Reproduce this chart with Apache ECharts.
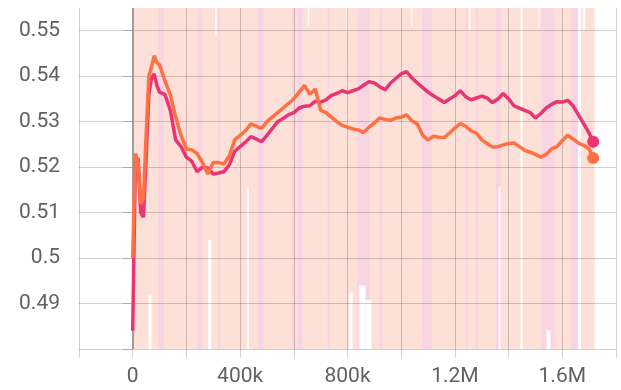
<!DOCTYPE html>
<html>
<head>
<meta charset="utf-8">
<script src="https://cdn.jsdelivr.net/npm/echarts@6/dist/echarts.min.js"></script>
<style>
  html, body { margin: 0; padding: 0; background: #fff; }
  #chart { width: 621px; height: 390px; }
</style>
</head>
<body>
<div id="chart"></div>
<script>
// training steps, in thousands
const stepsK = [
  0, 5, 10, 20, 30, 40, 50, 60, 70, 80, 90, 100,
  120, 140, 160, 180, 200, 220, 240, 260, 280, 300,
  320, 340, 360, 380, 400, 420, 440, 460, 480, 500,
  520, 540, 560, 580, 600, 620, 640, 660, 680, 700,
  720, 740, 760, 780, 800, 820, 840, 860, 880, 900,
  920, 940, 960, 980, 1000, 1020, 1040, 1060, 1080, 1100,
  1120, 1140, 1160, 1180, 1200, 1220, 1240, 1260, 1280, 1300,
  1320, 1340, 1360, 1380, 1400, 1420, 1440, 1460, 1480, 1500,
  1520, 1540, 1560, 1580, 1600, 1620, 1640, 1660, 1680, 1700,
  1715
];

// smoothed run values
const pinkRun = [
  0.484, 0.503, 0.521, 0.522, 0.510, 0.509, 0.522, 0.536, 0.5395, 0.5405, 0.538, 0.5365,
  0.536, 0.5325, 0.526, 0.5245, 0.5222, 0.5213, 0.519, 0.520, 0.5198, 0.5185,
  0.5187, 0.519, 0.5205, 0.5235, 0.5245, 0.5255, 0.5267, 0.5262, 0.5256, 0.527,
  0.5285, 0.530, 0.5307, 0.5315, 0.532, 0.533, 0.5334, 0.5335, 0.5345, 0.5343,
  0.5348, 0.5358, 0.5362, 0.5368, 0.5364, 0.5368, 0.5372, 0.538, 0.5388, 0.5385,
  0.5377, 0.537, 0.5385, 0.5395, 0.5405, 0.541, 0.5396, 0.5385, 0.5375, 0.5365,
  0.5357, 0.535, 0.5342, 0.535, 0.5357, 0.5368, 0.5355, 0.5348, 0.5352, 0.5356,
  0.5352, 0.5342, 0.535, 0.5362, 0.535, 0.5335, 0.533, 0.5325, 0.532, 0.5308,
  0.5318, 0.533, 0.5338, 0.5344, 0.5343, 0.5347, 0.5335, 0.5315, 0.5295, 0.5275,
  0.5256
];

const orangeRun = [
  0.500, 0.512, 0.523, 0.521, 0.512, 0.513, 0.527, 0.540, 0.542, 0.5445, 0.543, 0.5425,
  0.539, 0.536, 0.531, 0.527, 0.524, 0.5238, 0.523, 0.521, 0.5185, 0.521,
  0.521, 0.5207, 0.5225, 0.526, 0.527, 0.528, 0.5295, 0.529, 0.5285, 0.530,
  0.531, 0.532, 0.533, 0.534, 0.535, 0.5365, 0.538, 0.536, 0.5372, 0.5325,
  0.532, 0.531, 0.530, 0.5292, 0.5288, 0.5284, 0.5282, 0.5276, 0.5288, 0.5297,
  0.5308, 0.5305, 0.5303, 0.5308, 0.531, 0.5315, 0.5302, 0.5295, 0.527, 0.526,
  0.5268, 0.5266, 0.5265, 0.5275, 0.5286, 0.5296, 0.529, 0.528, 0.5275, 0.526,
  0.5252, 0.5244, 0.5245, 0.5249, 0.5252, 0.5253, 0.5245, 0.5237, 0.5233, 0.5228,
  0.5222, 0.5228, 0.524, 0.5245, 0.5258, 0.527, 0.5262, 0.5253, 0.5248, 0.524,
  0.522
];

// raw (unsmoothed) data is so noisy it fills the plot: kept as step ranges
const orangeRawSpan = [[0, 1720000, 0.48, 0.555]];
const pinkRawBands = [
  [96000, 115000], [241000, 259000], [319000, 326000], [467000, 485000],
  [596000, 604000], [615000, 633000], [726000, 733000], [837000, 882000],
  [919000, 930000], [1078000, 1115000], [1241000, 1248000], [1278000, 1285000],
  [1352000, 1370000], [1522000, 1570000], [1633000, 1659000]
];
const rawGaps = [
  [59000, 70000, 0.48, 0.4918], [281000, 293000, 0.48, 0.504],
  [307000, 313000, 0.549, 0.555], [426000, 433000, 0.48, 0.5156],
  [652000, 657000, 0.551, 0.555], [796000, 801000, 0.550, 0.555],
  [807000, 819000, 0.48, 0.4923], [844000, 867000, 0.48, 0.494],
  [867000, 889000, 0.48, 0.4907], [1037000, 1042000, 0.551, 0.555],
  [1252000, 1258000, 0.550, 0.555], [1363000, 1370000, 0.48, 0.5156],
  [1444000, 1452000, 0.48, 0.555], [1511000, 1515000, 0.551, 0.555],
  [1541000, 1556000, 0.48, 0.4841], [1659000, 1670000, 0.48, 0.555],
  [1678000, 1685000, 0.550, 0.555]
];

const Y_MIN = 0.48, Y_MAX = 0.555;

function toPoints(values) {
  return values.map((v, i) => [stepsK[i] * 1000, v]);
}

function bandSeries(name, bands, color) {
  return {
    name: name,
    type: 'custom',
    z: 1,
    silent: true,
    animation: false,
    data: bands.map(b => [b[0], b[1], b.length > 2 ? b[2] : Y_MIN, b.length > 2 ? b[3] : Y_MAX]),
    renderItem: (params, api) => {
      const p0 = api.coord([api.value(0), api.value(3)]);
      const p1 = api.coord([api.value(1), api.value(2)]);
      return {
        type: 'rect',
        shape: { x: p0[0], y: p0[1], width: p1[0] - p0[0], height: p1[1] - p0[1] },
        style: { fill: color }
      };
    }
  };
}

function runSeries(name, values, color) {
  const pts = toPoints(values);
  const data = pts.map((p, i) => i === pts.length - 1
    ? { value: p, symbol: 'circle', symbolSize: 12, itemStyle: { color: color } }
    : p);
  return {
    name: name,
    type: 'line',
    z: 5,
    data: data,
    symbol: 'none',
    lineStyle: { color: color, width: 3.5 },
    itemStyle: { color: color },
    emphasis: { disabled: true },
    animation: false
  };
}

const labelFont = { color: '#616161', fontSize: 21, fontFamily: 'Roboto' };
const gridGray = 'rgba(0,0,0,0.18)';

const chart = echarts.init(document.getElementById('chart'));

const peach = bandSeries('orange raw', orangeRawSpan, '#fde0d7');
peach.markLine = {
  silent: true,
  symbol: 'none',
  label: { show: false },
  lineStyle: { color: '#9e9e9e', width: 2, type: 'solid' },
  data: [{ xAxis: 0 }]
};

chart.setOption({
  animation: false,
  grid: { left: 79, right: 5, top: 8, bottom: 41 },
  xAxis: {
    type: 'value',
    min: -200000,
    max: 1800000,
    interval: 200000,
    z: 3,
    axisLine: { show: false },
    axisTick: { show: true, length: 9, lineStyle: { color: gridGray } },
    splitLine: { show: true, lineStyle: { color: gridGray } },
    axisLabel: {
      ...labelFont,
      margin: 17,
      formatter: v => {
        if (v === 0) return '0';
        if (v < 0 || v % 400000 !== 0) return '';
        return v >= 1000000 ? (v / 1000000) + 'M' : (v / 1000) + 'k';
      }
    }
  },
  yAxis: {
    type: 'value',
    min: Y_MIN,
    max: Y_MAX,
    interval: 0.01,
    z: 3,
    axisLine: { show: false },
    axisTick: { show: true, length: 10, lineStyle: { color: gridGray } },
    splitLine: { show: true, showMaxLine: false, lineStyle: { color: gridGray } },
    axisLabel: {
      ...labelFont,
      margin: 19,
      showMaxLabel: false,
      formatter: v => (v < 0.4845 || v > 0.5505) ? '' : String(+v.toFixed(2))
    }
  },
  series: [
    peach,
    bandSeries('pink raw', pinkRawBands, '#f9d4e3'),
    bandSeries('gaps', rawGaps, '#ffffff'),
    runSeries('run pink', pinkRun, '#ea3474'),
    runSeries('run orange', orangeRun, '#ff7043')
  ]
});
</script>
</body>
</html>
